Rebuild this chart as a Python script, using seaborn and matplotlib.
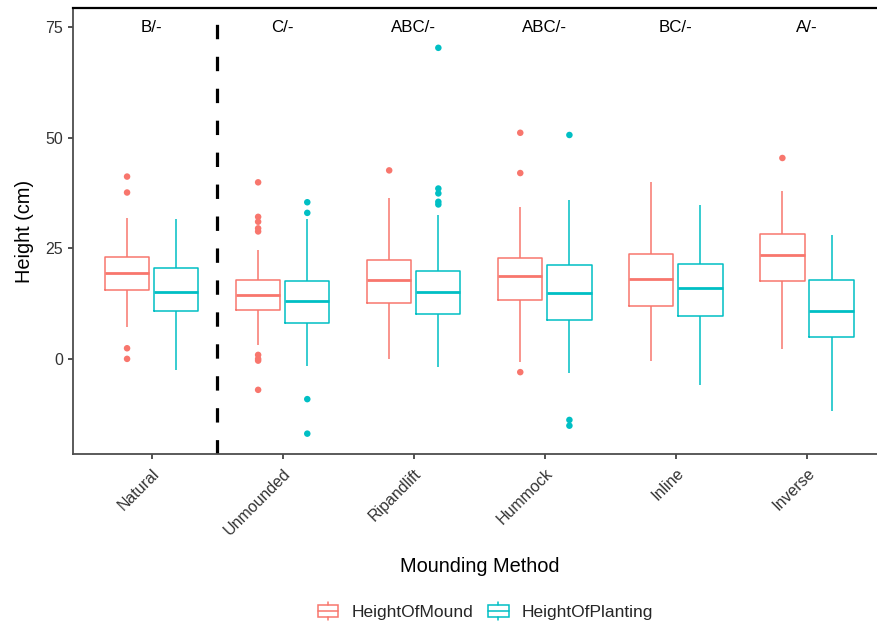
import numpy as np
import pandas as pd
import matplotlib.pyplot as plt
import matplotlib.patches as mpatches
from matplotlib.lines import Line2D
from matplotlib.legend_handler import HandlerBase
import seaborn as sns

methods = ["Natural", "Unmounded", "Ripandlift", "Hummock", "Inline", "Inverse"]
variables = ["HeightOfMound", "HeightOfPlanting"]
letters = ["B/-", "C/-", "ABC/-", "ABC/-", "BC/-", "A/-"]

# box summaries: whisker low, Q1, median, Q3, whisker high
mound_low = [7.1, 3.2, 0.0, -0.6, -0.5, 2.3]
mound_q1 = [15.5, 11.1, 12.6, 13.2, 11.9, 17.6]
mound_med = [19.4, 14.4, 17.8, 18.7, 18.0, 23.5]
mound_q3 = [23.1, 17.9, 22.4, 22.9, 23.6, 28.3]
mound_high = [31.8, 24.6, 36.4, 34.4, 39.9, 37.9]

plant_low = [-2.6, -1.6, -1.8, -3.1, -6.0, -11.7]
plant_q1 = [10.8, 8.0, 10.2, 8.7, 9.8, 5.0]
plant_med = [15.1, 13.0, 15.1, 14.9, 16.0, 10.9]
plant_q3 = [20.5, 17.5, 19.9, 21.3, 21.5, 17.8]
plant_high = [31.5, 31.5, 32.5, 35.8, 34.7, 27.9]

# outliers
mound_fliers = {
    "Natural": [41.2, 37.6, 2.4, 0.0],
    "Unmounded": [39.9, 32.1, 31.0, 29.5, 28.8, 0.9, 0.0, -0.4, -7.0],
    "Ripandlift": [42.6],
    "Hummock": [51.1, 42.0, -3.0],
    "Inline": [],
    "Inverse": [45.4],
}
plant_fliers = {
    "Natural": [],
    "Unmounded": [35.4, 33.0, -9.1, -16.9],
    "Ripandlift": [70.3, 38.5, 37.4, 35.5, 34.9],
    "Hummock": [50.6, -13.8, -15.1],
    "Inline": [],
    "Inverse": [],
}

colors = {"HeightOfMound": "#F8766D", "HeightOfPlanting": "#00BFC4"}
BOX_WIDTH = 0.75

rows = []
summaries = {
    "HeightOfMound": (mound_low, mound_q1, mound_med, mound_q3, mound_high),
    "HeightOfPlanting": (plant_low, plant_q1, plant_med, plant_q3, plant_high),
}
for var, cols in summaries.items():
    for i, m in enumerate(methods):
        for c in cols:
            rows.append({"Method": m, "Variable": var, "Height": c[i]})
box_df = pd.DataFrame(rows)

flier_rows = []
for j, (var, fl) in enumerate([("HeightOfMound", mound_fliers), ("HeightOfPlanting", plant_fliers)]):
    offset = (j - 0.5) * BOX_WIDTH / 2
    for i, m in enumerate(methods):
        for v in fl[m]:
            flier_rows.append({"x": i + offset, "Variable": var, "Height": v})
flier_df = pd.DataFrame(flier_rows)


class BoxKey(HandlerBase):
    def create_artists(self, legend, orig_handle, xdescent, ydescent,
                       width, height, fontsize, trans):
        c = orig_handle.get_edgecolor()
        bw = width * 0.9
        x0 = -xdescent + (width - bw) / 2
        cy = -ydescent + height / 2
        bh = height * 0.62
        box = mpatches.Rectangle((x0, cy - bh / 2), bw, bh, facecolor="none",
                                 edgecolor=c, lw=1.1, transform=trans)
        med = Line2D([x0, x0 + bw], [cy, cy], color=c, lw=1.1, transform=trans)
        xm = x0 + bw / 2
        w1 = Line2D([xm, xm], [cy + bh / 2, -ydescent + height], color=c, lw=1.1, transform=trans)
        w2 = Line2D([xm, xm], [cy - bh / 2, -ydescent], color=c, lw=1.1, transform=trans)
        return [box, med, w1, w2]


sns.set_style("white")
plt.rcParams["font.family"] = ["Liberation Sans", "DejaVu Sans"]

fig = plt.figure(figsize=(8.77, 6.25), dpi=100)
ax = fig.add_axes([73 / 877, 1 - 454 / 625, 812.6 / 877, 446 / 625])

sns.boxplot(data=box_df, x="Method", y="Height", hue="Variable", order=methods,
            hue_order=variables, palette=colors, fill=False, whis=(0, 100),
            showfliers=False, width=BOX_WIDTH, gap=0.1, linewidth=1.1,
            medianprops={"linewidth": 2.0}, capprops={"visible": False},
            legend=False, ax=ax)
sns.scatterplot(data=flier_df, x="x", y="Height", hue="Variable", hue_order=variables,
                palette=colors, s=22, edgecolor="none", legend=False, ax=ax)

ax.axvline(0.5, color="black", lw=2.3, linestyle=(0, (4.5, 5.5)))

for i, t in enumerate(letters):
    ax.text(i, 75, t, ha="center", va="center", fontsize=12.2, color="black")

ax.set_xlim(-0.6, 5.6)
ax.set_ylim(-21.5, 79.3)
ax.set_yticks([0, 25, 50, 75])
ax.set_xticks(range(len(methods)))
ax.set_xticklabels(methods, rotation=45, ha="right", va="top", rotation_mode="anchor",
                   fontsize=11.5, color="#333333")
ax.tick_params(axis="y", labelsize=11.5, labelcolor="#333333")
ax.tick_params(axis="both", length=3.5, width=1.2, color="#333333", direction="out",
               left=True, bottom=True)
ax.tick_params(axis="x", pad=5)

for s in ["left", "bottom"]:
    ax.spines[s].set_color("#4D4D4D")
    ax.spines[s].set_linewidth(1.3)
ax.spines["top"].set_color("black")
ax.spines["top"].set_linewidth(1.6)
ax.spines["right"].set_color("black")
ax.spines["right"].set_linewidth(1.6)

ax.set_xlabel("Mounding Method", fontsize=14.4, color="black", labelpad=14)
ax.set_ylabel("Height (cm)", fontsize=14.4, color="black", labelpad=8)

handles = [mpatches.Patch(edgecolor=colors[v], facecolor="none", label=v) for v in variables]
fig.legend(handles=handles, loc="center", bbox_to_anchor=(485 / 877, 1 - 611 / 625),
           ncol=2, frameon=False, fontsize=12.5, handler_map={mpatches.Patch: BoxKey()},
           handlelength=1.3, handleheight=1.25, handletextpad=0.7, columnspacing=0.8)

fig.savefig("out.png", dpi=100)
